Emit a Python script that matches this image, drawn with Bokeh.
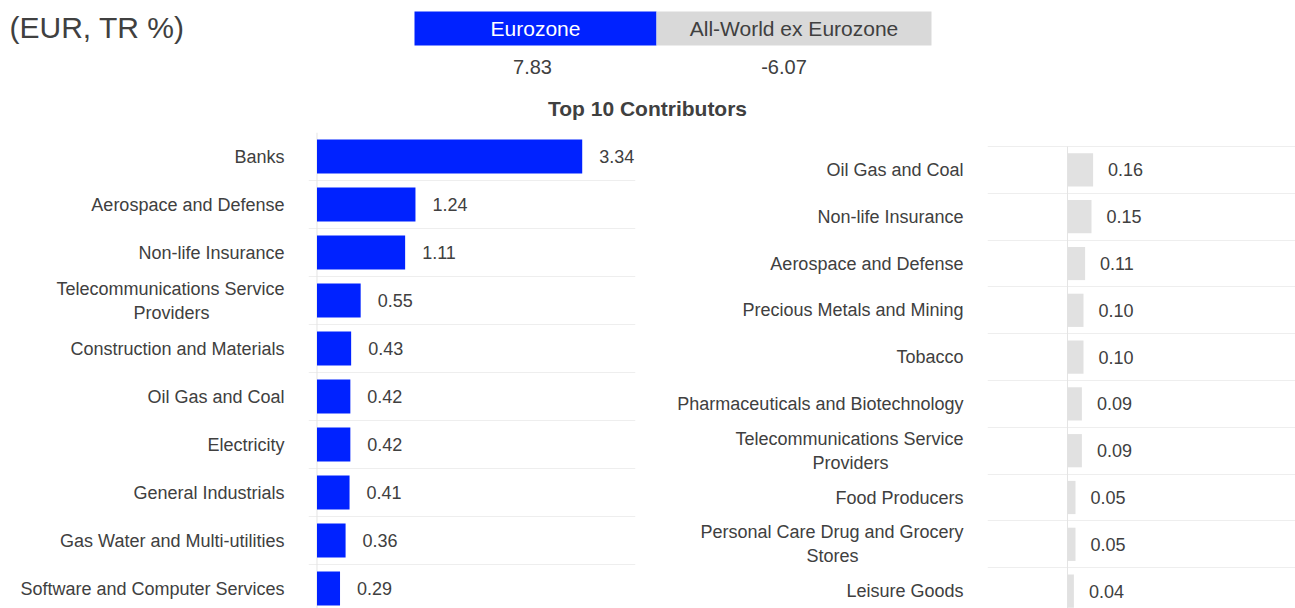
from bokeh.plotting import figure
from bokeh.layouts import column, row
from bokeh.models import Range1d, FixedTicker, ColumnDataSource
from bokeh.embed import file_html
from bokeh.resources import INLINE
from bokeh.core.properties import value

# ---------------- data ----------------
regions = ["Eurozone", "All-World ex Eurozone"]
region_returns = [7.83, -6.07]

ez_sectors = ["Banks", "Aerospace and Defense", "Non-life Insurance",
              "Telecommunications Service\nProviders", "Construction and Materials",
              "Oil Gas and Coal", "Electricity", "General Industrials",
              "Gas Water and Multi-utilities", "Software and Computer Services"]
ez_values = [3.34, 1.24, 1.11, 0.55, 0.43, 0.42, 0.42, 0.41, 0.36, 0.29]

aw_sectors = ["Oil Gas and Coal", "Non-life Insurance", "Aerospace and Defense",
              "Precious Metals and Mining", "Tobacco", "Pharmaceuticals and Biotechnology",
              "Telecommunications Service\nProviders", "Food Producers",
              "Personal Care Drug and Grocery\nStores", "Leisure Goods"]
aw_values = [0.16, 0.15, 0.11, 0.10, 0.10, 0.09, 0.09, 0.05, 0.05, 0.04]

title_text = "(EUR, TR %)"
subtitle_text = "Top 10 Contributors"

# ---------------- style ----------------
FONT = "Liberation Sans"
TXT = "#404040"
BLUE = "#0022FF"
GREY_BAR = "#e1e1e1"
GREY_BOX = "#d9d9d9"
GRID = "#eeeeee"
AXLINE = "#e4e4e4"
NBSP = "\u00a0"
# trailing no-break spaces so that the short 2nd line of a wrapped label sits centred
PAD = {"Providers": 15, "Stores": 21}


def centre_lines(name):
    parts = name.split("\n")
    return "\n".join(p + NBSP * PAD.get(p, 0) for p in parts)


W = 1295
HH = 123

# ---------------- header ----------------
hdr = figure(width=W, height=HH, x_range=Range1d(0, W), y_range=Range1d(HH, 0),
             output_backend="svg", toolbar_location=None, min_border=0,
             x_axis_location=None, y_axis_location=None)
hdr.outline_line_color = None
hdr.grid.visible = False

box_left = [414, 656]
box_right = [656, 931]
box_fill = [BLUE, GREY_BOX]
box_text_col = ["#ffffff", TXT]
val_shift = [-3, -10]
hsrc = ColumnDataSource(dict(
    left=box_left, right=box_right, fill=box_fill, name=regions, tcol=box_text_col,
    cx=[(a + b) / 2 for a, b in zip(box_left, box_right)],
    vx=[(a + b) / 2 + s for a, b, s in zip(box_left, box_right, val_shift)],
    val=[f"{v:.2f}" for v in region_returns],
))
hdr.quad(left="left", right="right", top=11, bottom=45, fill_color="fill",
         line_color=None, source=hsrc)
hdr.text(x="cx", y=28, text="name", text_color="tcol", text_align="center",
         text_baseline="middle", text_font=value(FONT), text_font_size="21px", source=hsrc)
hdr.text(x="vx", y=66, text="val", text_color=TXT, text_align="center",
         text_baseline="middle", text_font=value(FONT), text_font_size="20px", source=hsrc)
hdr.text(x=[9], y=[27], text=[title_text], text_color=TXT, text_align="left",
         text_baseline="alphabetic", text_font=value(FONT), text_font_size="30px")
hdr.text(x=[647], y=[108], text=[subtitle_text], text_color=TXT, text_align="center",
         text_baseline="middle", text_font=value(FONT), text_font_size="21px",
         text_font_style="bold")

PANEL_H = 608 - HH
BORDER_TOP = 132 - HH


def bar_panel(names, vals, color, width, border_left, border_right, row_px,
              first_line_gap, x_start, x_end, label_off):
    frame_h = PANEL_H - BORDER_TOP
    y_top = -0.5 - first_line_gap / row_px
    p = figure(width=width, height=PANEL_H,
               x_range=Range1d(x_start, x_end),
               y_range=Range1d(y_top + frame_h / row_px, y_top),
               output_backend="svg", toolbar_location=None, x_axis_location=None,
               min_border_left=border_left, min_border_right=border_right,
               min_border_top=BORDER_TOP, min_border_bottom=0)
    p.outline_line_color = None
    p.xgrid.visible = False
    n = len(names)
    p.ygrid.ticker = FixedTicker(ticks=[i - 0.5 for i in range(n + 1)])
    p.ygrid.grid_line_color = GRID
    p.ygrid.grid_line_width = 1
    ax = p.yaxis[0]
    ax.ticker = FixedTicker(ticks=list(range(n)))
    ax.major_label_overrides = {i: centre_lines(nm) for i, nm in enumerate(names)}
    ax.axis_line_color = None
    ax.major_tick_line_color = None
    ax.minor_tick_line_color = None
    ax.major_tick_out = 0
    ax.major_tick_in = 0
    ax.major_label_standoff = 24
    ax.major_label_text_font = FONT
    ax.major_label_text_font_size = "18px"
    ax.major_label_text_color = TXT
    # zero line of the value axis, spanning the category rows
    p.segment(x0=[0], x1=[0], y0=[-0.5], y1=[n - 0.5], line_color=AXLINE, line_width=1)
    src = ColumnDataSource(dict(y=list(range(n)), v=vals,
                                lab=[f"{v:.2f}" for v in vals]))
    p.hbar(y="y", left=0, right="v", height=0.71, fill_color=color, line_color=None,
           source=src)
    p.text(x="v", y="y", text="lab", x_offset=label_off, text_align="left",
           text_baseline="middle", text_font=value(FONT), text_font_size="18px",
           text_color=TXT, source=src)
    return p


left = bar_panel(ez_sectors, ez_values, BLUE, 645, 308, 10, 48, 0,
                 -0.107, 4.011, 17)
right = bar_panel(aw_sectors, aw_values, GREY_BAR, 650, 342, 0, 46.8, 14,
                  -0.5, 1.425, 15)

layout = column(hdr, row(left, right, spacing=0), spacing=0)
open("out.html", "w").write(file_html(layout, INLINE))
